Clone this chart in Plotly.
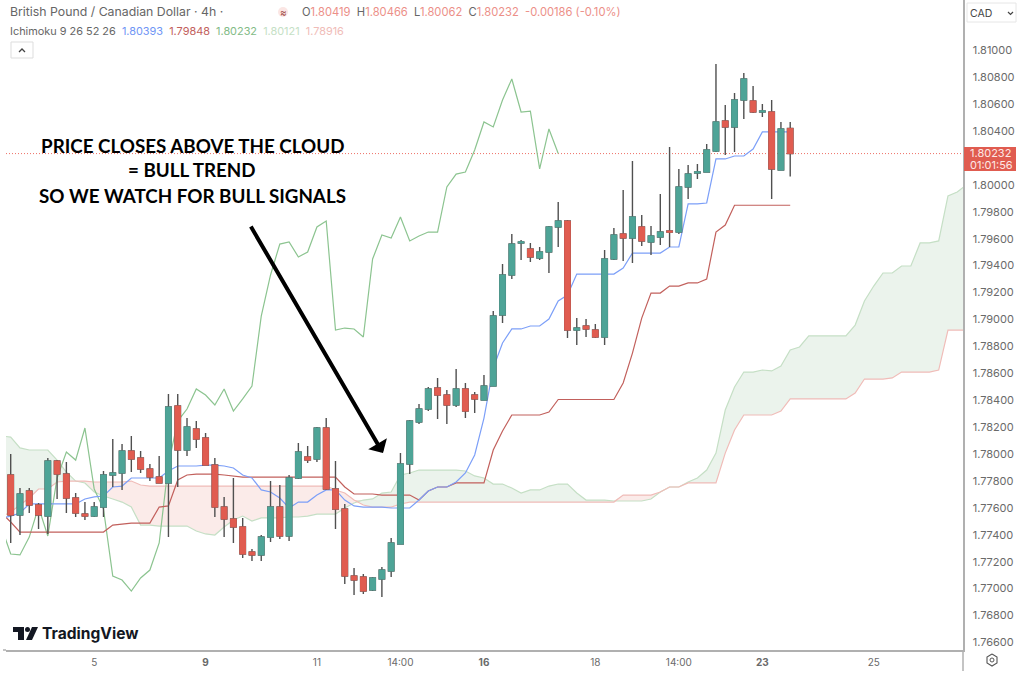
import plotly.graph_objects as go
import numpy as np

opens = [1.77844,1.77547,1.77725,1.77621,1.77539,1.77948,1.77851,1.77673,1.77554,1.77539,
 1.77606,1.77844,1.77859,1.78022,1.77970,1.77889,1.77829,1.77785,1.78357,1.78030,
 1.78186,1.78119,1.77918,1.77606,1.77517,1.77458,1.77272,1.77250,1.77383,1.77606,
 1.77391,1.77822,1.77978,1.77963,1.78193,1.77740,1.77591,1.77094,1.77086,1.76990,
 1.77071,1.77131,1.77331,1.77926,1.78238,1.78334,1.78490,1.78438,1.78364,1.78483,
 1.78438,1.78401,1.78505,1.79033,1.79330,1.79568,1.79523,1.79456,1.79501,1.79687,
 1.79731,1.78921,1.78951,1.78921,1.78869,1.79449,1.79635,1.79605,1.79687,1.79575,
 1.79612,1.79657,1.79649,1.79984,1.80088,1.80095,1.80251,1.80474,1.80430,1.80630,
 1.80623,1.80541,1.80541,1.80110,1.80419]
highs = [1.78000,1.77747,1.77747,1.77636,1.77970,1.77955,1.77941,1.77710,1.77643,1.77643,
 1.77874,1.78111,1.78074,1.78134,1.78022,1.77926,1.77985,1.78446,1.78446,1.78267,
 1.78245,1.78156,1.77970,1.77681,1.77822,1.77525,1.77294,1.77398,1.77799,1.77770,
 1.77844,1.78082,1.78059,1.78201,1.78267,1.77948,1.77629,1.77153,1.77108,1.77086,
 1.77160,1.77376,1.78007,1.78253,1.78372,1.78498,1.78565,1.78476,1.78632,1.78528,
 1.78461,1.78587,1.79062,1.79412,1.79635,1.79590,1.79568,1.79538,1.79694,1.79872,
 1.79739,1.79010,1.79003,1.78966,1.79516,1.79679,1.79962,1.80177,1.79776,1.79694,
 1.79932,1.80281,1.80118,1.80147,1.80155,1.80303,1.80898,1.80593,1.80682,1.80831,
 1.80734,1.80601,1.80630,1.80467,1.80466]
lows = [1.77339,1.77398,1.77562,1.77443,1.77406,1.77666,1.77562,1.77532,1.77510,1.77532,
 1.77532,1.77755,1.77733,1.77866,1.77859,1.77799,1.77785,1.77383,1.77755,1.77985,
 1.78045,1.77918,1.77532,1.77383,1.77339,1.77227,1.77205,1.77205,1.77346,1.77368,
 1.77354,1.77814,1.77933,1.77941,1.77733,1.77443,1.77034,1.76952,1.76960,1.76982,
 1.76938,1.77086,1.77331,1.77851,1.78223,1.78319,1.78260,1.78223,1.78349,1.78267,
 1.78305,1.78401,1.78505,1.78973,1.79300,1.79441,1.79427,1.79441,1.79345,1.79538,
 1.78862,1.78810,1.78869,1.78862,1.78810,1.79441,1.79434,1.79419,1.79545,1.79479,
 1.79553,1.79538,1.79635,1.79895,1.80043,1.80095,1.80244,1.80222,1.80244,1.80489,
 1.80534,1.80504,1.79895,1.80110,1.80062]
closes = [1.77547,1.77703,1.77621,1.77547,1.77948,1.77851,1.77673,1.77562,1.77539,1.77606,
 1.77844,1.77859,1.78022,1.77963,1.77889,1.77829,1.77785,1.78349,1.78030,1.78201,
 1.78111,1.77918,1.77606,1.77517,1.77458,1.77257,1.77250,1.77383,1.77606,1.77391,
 1.77822,1.78015,1.77955,1.78193,1.77740,1.77591,1.77094,1.77064,1.76982,1.77079,
 1.77138,1.77339,1.77926,1.78245,1.78334,1.78483,1.78438,1.78364,1.78483,1.78319,
 1.78409,1.78505,1.79025,1.79330,1.79560,1.79575,1.79464,1.79501,1.79687,1.79731,
 1.78921,1.78936,1.78929,1.78869,1.79449,1.79627,1.79605,1.79761,1.79583,1.79620,
 1.79649,1.79649,1.79984,1.80080,1.80095,1.80259,1.80467,1.80430,1.80630,1.80786,
 1.80541,1.80548,1.80118,1.80415,1.80232]

# Ichimoku series, first point one bar before the first candle
tenkan = [1.77525,1.77539,1.77562,1.77629,1.77629,1.77629,1.77629,1.77629,1.77629,1.77666,
 1.77681,1.77688,1.77755,1.77762,1.77822,1.77822,1.77822,1.77822,1.77874,1.77911,
 1.77911,1.77911,1.77918,1.77918,1.77911,1.77896,1.77844,1.77822,1.77733,1.77718,
 1.77673,1.77599,1.77643,1.77643,1.77695,1.77733,1.77733,1.77658,1.77614,1.77606,
 1.77606,1.77606,1.77599,1.77599,1.77599,1.77658,1.77725,1.77755,1.77755,1.77792,
 1.77859,1.77993,1.78267,1.78639,1.78825,1.78929,1.78929,1.78951,1.78951,1.79003,
 1.79137,1.79181,1.79337,1.79337,1.79337,1.79337,1.79337,1.79382,1.79493,1.79493,
 1.79493,1.79493,1.79538,1.79538,1.79858,1.79858,1.79865,1.80192,1.80192,1.80214,
 1.80214,1.80266,1.80393,1.80393,1.80393,1.80393]
kijun = [1.77562,1.77495,1.77420,1.77420,1.77420,1.77420,1.77420,1.77420,1.77420,1.77420,
 1.77420,1.77420,1.77472,1.77480,1.77487,1.77487,1.77487,1.77606,1.77614,1.77807,
 1.77844,1.77851,1.77851,1.77851,1.77844,1.77837,1.77829,1.77829,1.77829,1.77829,
 1.77829,1.77829,1.77829,1.77829,1.77829,1.77829,1.77829,1.77755,1.77703,1.77703,
 1.77703,1.77695,1.77695,1.77695,1.77695,1.77658,1.77725,1.77755,1.77755,1.77785,
 1.77785,1.77785,1.77785,1.78030,1.78171,1.78290,1.78290,1.78290,1.78290,1.78312,
 1.78405,1.78405,1.78405,1.78405,1.78405,1.78405,1.78405,1.78528,1.78750,1.79010,
 1.79196,1.79196,1.79248,1.79248,1.79271,1.79271,1.79300,1.79649,1.79701,1.79848,
 1.79848,1.79848,1.79848,1.79848,1.79848,1.79848]
chikou = [1.77458,1.77257,1.77250,1.77383,1.77606,1.77391,1.77822,1.78015,1.77955,1.78193,
 1.77740,1.77591,1.77094,1.77064,1.76982,1.77079,1.77138,1.77339,1.77926,1.78245,
 1.78334,1.78483,1.78438,1.78364,1.78483,1.78319,1.78409,1.78505,1.79025,1.79330,
 1.79560,1.79575,1.79464,1.79501,1.79687,1.79731,1.78921,1.78936,1.78929,1.78869,
 1.79449,1.79627,1.79605,1.79761,1.79583,1.79620,1.79649,1.79649,1.79984,1.80080,
 1.80095,1.80259,1.80467,1.80430,1.80630,1.80786,1.80541,1.80548,1.80118,1.80415,1.80232]
span_a = [1.78134,1.78126,1.78045,1.78030,1.78030,1.78030,1.77955,1.77866,1.77799,1.77785,
 1.77718,1.77688,1.77666,1.77643,1.77606,1.77472,1.77472,1.77465,1.77465,1.77465,
 1.77465,1.77428,1.77406,1.77398,1.77458,1.77510,1.77539,1.77502,1.77525,1.77525,
 1.77525,1.77532,1.77532,1.77539,1.77554,1.77554,1.77554,1.77599,1.77636,1.77658,
 1.77666,1.77710,1.77718,1.77844,1.77859,1.77881,1.77881,1.77881,1.77881,1.77881,
 1.77874,1.77837,1.77822,1.77777,1.77777,1.77747,1.77710,1.77733,1.77733,1.77762,
 1.77777,1.77777,1.77710,1.77658,1.77658,1.77658,1.77651,1.77651,1.77651,1.77651,
 1.77666,1.77718,1.77755,1.77755,1.77792,1.77822,1.77881,1.78007,1.78327,1.78498,
 1.78609,1.78609,1.78624,1.78617,1.78654,1.78773,1.78795,1.78877,1.78877,1.78877,
 1.78877,1.78877,1.78958,1.79137,1.79248,1.79345,1.79345,1.79397,1.79397,1.79568,
 1.79568,1.79583,1.79917,1.79947,1.79999]
span_b = [1.77532,1.77569,1.77621,1.77673,1.77740,1.77740,1.77792,1.77799,1.77799,1.77799,
 1.77792,1.77792,1.77792,1.77792,1.77799,1.77770,
 1.77762,1.77762,1.77762,1.77762,1.77762,1.77762,1.77762,1.77762,1.77762,1.77762,
 1.77762,1.77762,1.77762,1.77762,1.77762,1.77762,1.77762,1.77762,1.77762,1.77762,
 1.77733,1.77710,1.77658,1.77621,1.77606,1.77606,1.77606,1.77629,
 1.77643,1.77643,1.77643,1.77643,1.77643,1.77643,1.77643,1.77643,1.77643,1.77643,
 1.77643,1.77643,1.77643,1.77643,1.77643,1.77643,1.77643,1.77643,1.77643,1.77643,
 1.77643,1.77643,1.77643,
 1.77695,1.77695,1.77695,1.77695,1.77718,1.77755,1.77755,1.77785,1.77785,1.77785,
 1.77785,1.78007,1.78178,1.78290,1.78290,1.78290,1.78290,1.78319,
 1.78409,1.78409,1.78409,1.78409,1.78409,1.78409,1.78409,1.78453,
 1.78557,1.78557,1.78557,1.78565,1.78609,1.78609,1.78609,1.78609,1.78624,
 1.78921,1.78921,1.78921]

x_tick_bars = [9, 21, 33, 42, 51, 63, 72, 81, 93]
x_tick_text = ["5", "<b>9</b>", "11", "14:00", "<b>16</b>", "18", "14:00", "<b>23</b>", "25"]
y_ticks = [1.766,1.768,1.770,1.772,1.774,1.776,1.778,1.780,1.782,1.784,1.786,1.788,1.790,
           1.792,1.794,1.796,1.798,1.800,1.804,1.806,1.808,1.810]
last_close = 1.80232

assert len(opens)==len(highs)==len(lows)==len(closes)==85
assert len(tenkan)==86 and len(kijun)==86 and len(chikou)==61
assert len(span_a)==105 and len(span_b)==105, (len(span_a), len(span_b))

UP, DOWN = "#4ea497", "#e05c50"
W, H = 1024, 676
L, R, T, B = 6, 61, 0, 26
XR = [-0.506, 102.62]
YR = [1.76544, 1.81373]
X = lambda p: (p - L) / (W - L - R)
Y = lambda p: 1 - (p - T) / (H - T - B)

bars = list(range(85))
xs = list(range(-1, 104))
a, b = np.array(span_a), np.array(span_b)
top = np.maximum(a, b)

fig = go.Figure()
def line(x, y, color, **kw):
    fig.add_trace(go.Scatter(x=x, y=y, mode="lines", hoverinfo="skip", showlegend=False,
                             line=dict(color=color, width=kw.pop("width", 1.2)), **kw))

# cloud: green where span A leads, red where span B leads
line(xs, b.tolist(), "rgba(0,0,0,0)", width=0)
line(xs, top.tolist(), "rgba(0,0,0,0)", width=0, fill="tonexty", fillcolor="rgba(120,175,125,0.15)")
line(xs, a.tolist(), "rgba(0,0,0,0)", width=0)
line(xs, top.tolist(), "rgba(0,0,0,0)", width=0, fill="tonexty", fillcolor="rgba(225,110,100,0.14)")
line(xs, span_a, "#c5dfc5")
line(xs, span_b, "#f0bcb8")
line(list(range(-1, 60)), chikou, "#8cc490")
line(list(range(-1, 85)), kijun, "#c2605c")
line(list(range(-1, 85)), tenkan, "#7c9ff8")

# candles sit above the lines: wicks first, then bodies
fig.add_trace(go.Candlestick(x=bars, open=opens, high=highs, low=lows, close=closes,
    xaxis="x2", yaxis="y2", hoverinfo="skip", showlegend=False, whiskerwidth=0,
    increasing=dict(line=dict(color="#505050", width=1.4), fillcolor="#505050"),
    decreasing=dict(line=dict(color="#505050", width=1.4), fillcolor="#505050")))
body_hi = np.maximum(opens, closes).tolist()
body_lo = np.minimum(opens, closes).tolist()
fig.add_trace(go.Candlestick(x=bars, open=opens, high=body_hi, low=body_lo, close=closes,
    xaxis="x2", yaxis="y2", hoverinfo="skip", showlegend=False, whiskerwidth=0,
    increasing=dict(line=dict(color=UP, width=1), fillcolor=UP),
    decreasing=dict(line=dict(color=DOWN, width=1), fillcolor=DOWN)))

ann = []
def text(px, py, s, size=11, color="#555", anchor="left", family="Inter", **kw):
    ann.append(dict(x=X(px), y=Y(py), xref="paper", yref="paper", text=s, showarrow=False,
                    xanchor=anchor, yanchor="middle", font=dict(size=size, color=color, family=family), **kw))

rc = "#ec8f88"
text(8, 12, "British Pound / Canadian Dollar · 4h ·", 12.3, "#666")
text(300, 12, f'O<span style="color:{rc}">1.80419</span>  H<span style="color:{rc}">1.80466</span>'
              f'  L<span style="color:{rc}">1.80062</span>  C<span style="color:{rc}">1.80232</span>'
              f'  <span style="color:{rc}">-0.00186 (-0.10%)</span>', 11.2, "#666")
text(8, 31, 'Ichimoku 9 26 52 26  <span style="color:#6f95f5">1.80393</span>'
            '  <span style="color:#c2605c">1.79848</span>  <span style="color:#82bb86">1.80232</span>'
            '  <span style="color:#c5dfc5">1.80121</span>  <span style="color:#f0bcb8">1.78916</span>', 10.9, "#666")
text(283, 12, "≈", 10, "#a04a44", anchor="center")

for py, s in [(145, "PRICE CLOSES ABOVE THE CLOUD"), (170, "= BULL TREND"), (195, "SO WE WATCH FOR BULL SIGNALS")]:
    text(192, py, f"<b>{s}</b>", 18.8, "#000", anchor="center", family="Lato")

text(40, 633, "<b>TradingView</b>", 15.6, "#131722")
text(968, 13, "CAD", 10.5, "#444")
text(968, 153, "1.80232", 11, "#fde8e6")
text(968, 165, "01:01:56", 11, "#fde8e6")

ann.append(dict(x=40.12, y=1.78007, xref="x", yref="y", ax=-133, ay=-228, axref="pixel", ayref="pixel",
                text="", showarrow=True, arrowhead=1, arrowsize=0.9, arrowwidth=4, arrowcolor="#000", standoff=0))

def rect(x0, y0, x1, y1, fill, line_c=None, lw=1, kind="rect"):
    return dict(type=kind, xref="paper", yref="paper", x0=X(x0), x1=X(x1), y0=Y(y0), y1=Y(y1),
                fillcolor=fill, line=dict(color=line_c or fill, width=lw if line_c else 0), layer="above")
def path(pts, fill=None, color="#555", lw=1):
    d = "M" + " L".join(f"{X(p)} {Y(q)}" for p, q in pts) + (" Z" if fill else "")
    return dict(type="path", xref="paper", yref="paper", path=d, fillcolor=fill or "rgba(0,0,0,0)",
                line=dict(color=color if not fill else fill, width=lw if not fill else 0), layer="above")

shapes = [
    dict(type="line", xref="paper", yref="y", x0=0, x1=1, y0=last_close, y1=last_close,
         line=dict(color="#ee7067", width=1, dash="1px,2px"), layer="below"),
    path([(963, 650), (963, 671)], None, "#b0b0b0", 1.5),
    path([(3, 650), (6, 650)], None, "#b0b0b0", 1.5),
    rect(283-5, 7, 283+5, 17, "#fbe6e4", kind="circle"),
    rect(11, 42, 33, 58, "#ffffff", "#dddddd"),
    path([(19, 52), (22, 49), (25, 52)], None, "#444", 1.3),
    rect(967, 3, 1016, 22, "#ffffff", "#e6e6e6"),
    path([(1008, 12), (1010.5, 14.5), (1013, 12)], None, "#444", 1.2),
    rect(964, 147, 1016, 171, DOWN),
    # TradingView mark
    path([(13, 627), (24, 627), (24, 640), (18, 640), (18, 632), (13, 632)], "#131722"),
    rect(25, 627, 30, 632, "#131722", kind="circle"),
    path([(32, 627), (38, 627), (32, 640), (26, 640)], "#131722"),
    # settings icon
    path([(992, 654), (997, 657), (997, 663), (992, 666), (987, 663), (987, 657), (992, 654)], None, "#555", 1.1),
    rect(990, 658, 994, 662, "#ffffff", "#555", 1, kind="circle"),
]

fig.update_layout(
    width=W, height=H, autosize=False, margin=dict(l=L, r=R, t=T, b=B),
    paper_bgcolor="#ffffff", plot_bgcolor="#ffffff", showlegend=False,
    boxgap=0.14,
    xaxis=dict(range=XR, tickmode="array", tickvals=x_tick_bars, ticktext=x_tick_text,
               tickfont=dict(family="Inter", size=10, color="#6a6a6a"),
               showgrid=False, zeroline=False, showline=True, linecolor="#b0b0b0", linewidth=1.5,
               ticklen=0, ticklabelstandoff=2, rangeslider=dict(visible=False)),
    yaxis=dict(range=YR, side="right", tickmode="array", tickvals=y_ticks, tickformat=".5f",
               tickfont=dict(family="Inter", size=11, color="#6a6a6a"),
               showgrid=False, zeroline=False, showline=True, linecolor="#b0b0b0", linewidth=1.5,
               ticklen=0, ticklabelstandoff=6),
    xaxis2=dict(range=XR, overlaying="x", visible=False, rangeslider=dict(visible=False)),
    yaxis2=dict(range=YR, overlaying="y", visible=False),
    annotations=ann, shapes=shapes,
)
fig.write_html("out.html", config=dict(displayModeBar=False, staticPlot=True),
               post_script="document.body.style.margin='0';document.documentElement.style.overflow='hidden';")
